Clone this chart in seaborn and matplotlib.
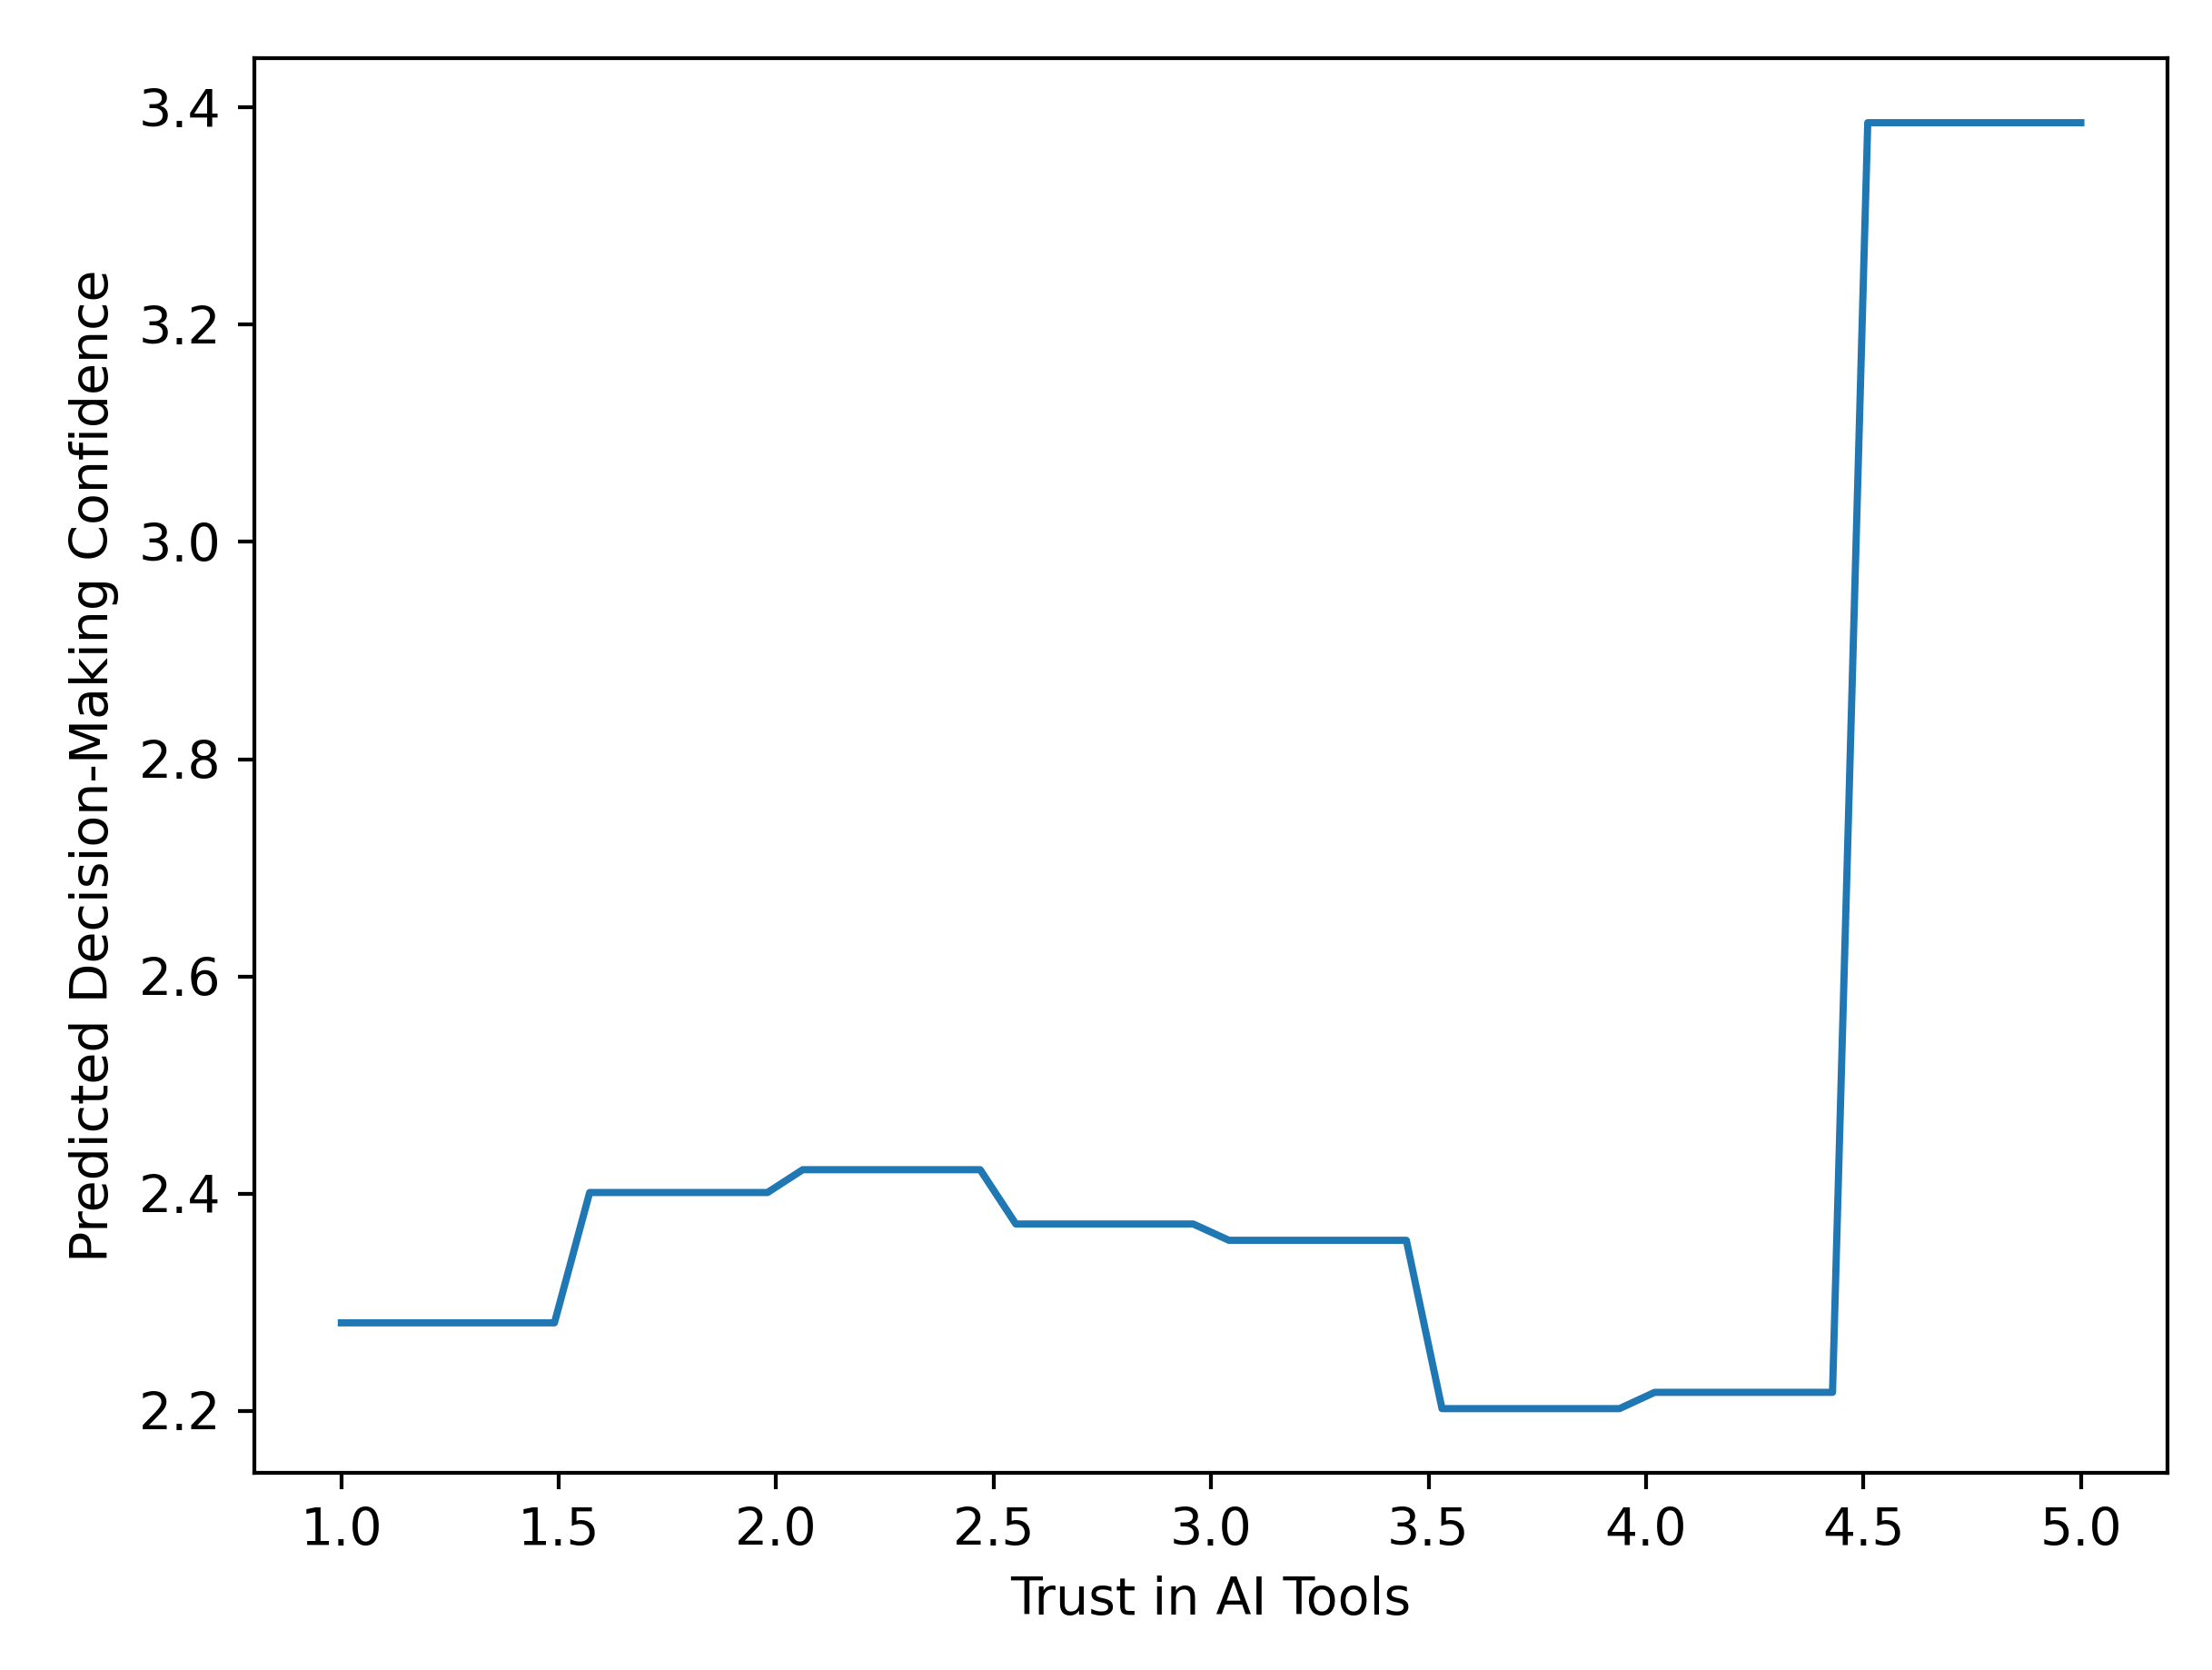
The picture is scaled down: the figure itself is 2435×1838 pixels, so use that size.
import matplotlib
matplotlib.use("Agg")
import matplotlib.pyplot as plt
import seaborn as sns
import pandas as pd

trust = [1.0, 1.082, 1.163, 1.245, 1.327, 1.408, 1.49,
         1.571, 1.653, 1.735, 1.816, 1.898, 1.98,
         2.061, 2.143, 2.224, 2.306, 2.388, 2.469,
         2.551, 2.633, 2.714, 2.796, 2.878, 2.959,
         3.041, 3.122, 3.204, 3.286, 3.367, 3.449,
         3.531, 3.612, 3.694, 3.776, 3.857, 3.939,
         4.02, 4.102, 4.184, 4.265, 4.347, 4.429,
         4.51, 4.592, 4.673, 4.755, 4.837, 4.918, 5.0]
confidence = [2.281]*7 + [2.401]*6 + [2.422]*6 + [2.372]*6 + [2.357]*6 + \
             [2.202]*6 + [2.217]*6 + [3.386]*7

plt.rcParams["font.size"] = 10.8
df = pd.DataFrame({"Trust in AI Tools": trust, "Predicted Decision-Making Confidence": confidence})
fig, ax = plt.subplots(figsize=(6.408, 4.837), dpi=380)
sns.lineplot(data=df, x="Trust in AI Tools", y="Predicted Decision-Making Confidence", ax=ax, color="#1f77b4")
ax.set_yticks([2.2, 2.4, 2.6, 2.8, 3.0, 3.2, 3.4])
fig.subplots_adjust(left=0.115, right=0.98, top=0.965, bottom=0.118)
fig.savefig("out.png", dpi=380)
